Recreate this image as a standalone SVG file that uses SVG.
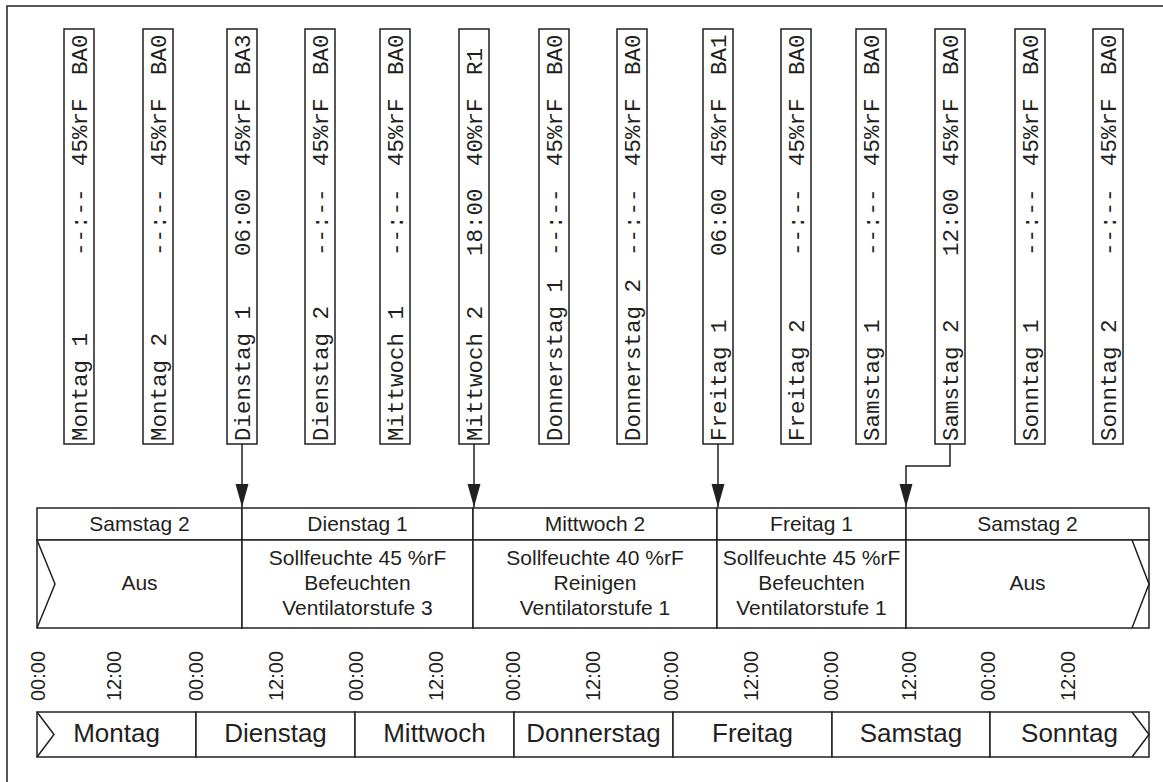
<svg xmlns="http://www.w3.org/2000/svg" width="1163" height="782" viewBox="0 0 1163 782">
<style>
.ln{fill:none;stroke:#231f20;stroke-width:1.5}
.bx{fill:#fff;stroke:#231f20;stroke-width:1.5}
.mono{font-family:"Liberation Mono","DejaVu Sans Mono",monospace;font-size:22.5px;fill:#231f20}
.sans{font-family:"Liberation Sans",Arial,sans-serif;font-size:21px;fill:#231f20;text-anchor:middle}
.tl{font-family:"Liberation Sans",Arial,sans-serif;font-size:20px;fill:#231f20}
.day{font-family:"Liberation Sans",Arial,sans-serif;font-size:26px;fill:#231f20;text-anchor:middle}
</style>
<defs>
<marker id="arr" markerUnits="userSpaceOnUse" markerWidth="24" markerHeight="14" refX="23" refY="6.5" orient="auto">
<path d="M0,0 L23,6.5 L0,13 z" fill="#231f20"/>
</marker>
</defs>
<rect width="1163" height="782" fill="#fff"/>
<path class="ln" d="M7,782 V6 H1163"/>

<g id="programs">
<g id="p-mo1"><rect class="bx" x="64" y="29" width="30" height="415"/><g class="mono" transform="translate(86.5,0)"><text transform="translate(0,441) rotate(-90)">Montag 1</text><text transform="translate(0,256) rotate(-90)">--:--</text><text transform="translate(0,166) rotate(-90)">45%rF</text><text transform="translate(0,75) rotate(-90)">BA0</text></g></g>
<g id="p-mo2"><rect class="bx" x="143" y="29" width="30" height="415"/><g class="mono" transform="translate(165.5,0)"><text transform="translate(0,441) rotate(-90)">Montag 2</text><text transform="translate(0,256) rotate(-90)">--:--</text><text transform="translate(0,166) rotate(-90)">45%rF</text><text transform="translate(0,75) rotate(-90)">BA0</text></g></g>
<g id="p-di1"><rect class="bx" x="227" y="29" width="30" height="415"/><g class="mono" transform="translate(249.5,0)"><text transform="translate(0,441) rotate(-90)">Dienstag 1</text><text transform="translate(0,256) rotate(-90)">06:00</text><text transform="translate(0,166) rotate(-90)">45%rF</text><text transform="translate(0,75) rotate(-90)">BA3</text></g></g>
<g id="p-di2"><rect class="bx" x="305" y="29" width="30" height="415"/><g class="mono" transform="translate(327.5,0)"><text transform="translate(0,441) rotate(-90)">Dienstag 2</text><text transform="translate(0,256) rotate(-90)">--:--</text><text transform="translate(0,166) rotate(-90)">45%rF</text><text transform="translate(0,75) rotate(-90)">BA0</text></g></g>
<g id="p-mi1"><rect class="bx" x="380" y="29" width="30" height="415"/><g class="mono" transform="translate(402.5,0)"><text transform="translate(0,441) rotate(-90)">Mittwoch 1</text><text transform="translate(0,256) rotate(-90)">--:--</text><text transform="translate(0,166) rotate(-90)">45%rF</text><text transform="translate(0,75) rotate(-90)">BA0</text></g></g>
<g id="p-mi2"><rect class="bx" x="459" y="29" width="30" height="415"/><g class="mono" transform="translate(481.5,0)"><text transform="translate(0,441) rotate(-90)">Mittwoch 2</text><text transform="translate(0,256) rotate(-90)">18:00</text><text transform="translate(0,166) rotate(-90)">40%rF</text><text transform="translate(0,75) rotate(-90)">R1</text></g></g>
<g id="p-do1"><rect class="bx" x="539" y="29" width="30" height="415"/><g class="mono" transform="translate(561.5,0)"><text transform="translate(0,441) rotate(-90)">Donnerstag 1</text><text transform="translate(0,256) rotate(-90)">--:--</text><text transform="translate(0,166) rotate(-90)">45%rF</text><text transform="translate(0,75) rotate(-90)">BA0</text></g></g>
<g id="p-do2"><rect class="bx" x="617" y="29" width="30" height="415"/><g class="mono" transform="translate(639.5,0)"><text transform="translate(0,441) rotate(-90)">Donnerstag 2</text><text transform="translate(0,256) rotate(-90)">--:--</text><text transform="translate(0,166) rotate(-90)">45%rF</text><text transform="translate(0,75) rotate(-90)">BA0</text></g></g>
<g id="p-fr1"><rect class="bx" x="703" y="29" width="30" height="415"/><g class="mono" transform="translate(725.5,0)"><text transform="translate(0,441) rotate(-90)">Freitag 1</text><text transform="translate(0,256) rotate(-90)">06:00</text><text transform="translate(0,166) rotate(-90)">45%rF</text><text transform="translate(0,75) rotate(-90)">BA1</text></g></g>
<g id="p-fr2"><rect class="bx" x="781" y="29" width="30" height="415"/><g class="mono" transform="translate(803.5,0)"><text transform="translate(0,441) rotate(-90)">Freitag 2</text><text transform="translate(0,256) rotate(-90)">--:--</text><text transform="translate(0,166) rotate(-90)">45%rF</text><text transform="translate(0,75) rotate(-90)">BA0</text></g></g>
<g id="p-sa1"><rect class="bx" x="856" y="29" width="30" height="415"/><g class="mono" transform="translate(878.5,0)"><text transform="translate(0,441) rotate(-90)">Samstag 1</text><text transform="translate(0,256) rotate(-90)">--:--</text><text transform="translate(0,166) rotate(-90)">45%rF</text><text transform="translate(0,75) rotate(-90)">BA0</text></g></g>
<g id="p-sa2"><rect class="bx" x="935" y="29" width="30" height="415"/><g class="mono" transform="translate(957.5,0)"><text transform="translate(0,441) rotate(-90)">Samstag 2</text><text transform="translate(0,256) rotate(-90)">12:00</text><text transform="translate(0,166) rotate(-90)">45%rF</text><text transform="translate(0,75) rotate(-90)">BA0</text></g></g>
<g id="p-so1"><rect class="bx" x="1015" y="29" width="30" height="415"/><g class="mono" transform="translate(1037.5,0)"><text transform="translate(0,441) rotate(-90)">Sonntag 1</text><text transform="translate(0,256) rotate(-90)">--:--</text><text transform="translate(0,166) rotate(-90)">45%rF</text><text transform="translate(0,75) rotate(-90)">BA0</text></g></g>
<g id="p-so2"><rect class="bx" x="1093" y="29" width="30" height="415"/><g class="mono" transform="translate(1115.5,0)"><text transform="translate(0,441) rotate(-90)">Sonntag 2</text><text transform="translate(0,256) rotate(-90)">--:--</text><text transform="translate(0,166) rotate(-90)">45%rF</text><text transform="translate(0,75) rotate(-90)">BA0</text></g></g>
</g>

<g id="schedule">
<g id="s-sa2a"><rect class="bx" x="37" y="508" width="205" height="32"/><rect class="bx" x="37" y="540" width="205" height="88"/><path class="ln" d="M37,540 L55,584 L37,628"/><text class="sans" x="139.5" y="531">Samstag 2</text><text class="sans" x="139.5" y="590">Aus</text></g>
<g id="s-di1"><rect class="bx" x="242" y="508" width="231" height="32"/><rect class="bx" x="242" y="540" width="231" height="88"/><text class="sans" x="357.5" y="531">Dienstag 1</text><text class="sans" x="357.5" y="565">Sollfeuchte 45 %rF</text><text class="sans" x="357.5" y="590">Befeuchten</text><text class="sans" x="357.5" y="615">Ventilatorstufe 3</text></g>
<g id="s-mi2"><rect class="bx" x="473" y="508" width="244" height="32"/><rect class="bx" x="473" y="540" width="244" height="88"/><text class="sans" x="595" y="531">Mittwoch 2</text><text class="sans" x="595" y="565">Sollfeuchte 40 %rF</text><text class="sans" x="595" y="590">Reinigen</text><text class="sans" x="595" y="615">Ventilatorstufe 1</text></g>
<g id="s-fr1"><rect class="bx" x="717" y="508" width="189" height="32"/><rect class="bx" x="717" y="540" width="189" height="88"/><text class="sans" x="811.5" y="531">Freitag 1</text><text class="sans" x="811.5" y="565">Sollfeuchte 45 %rF</text><text class="sans" x="811.5" y="590">Befeuchten</text><text class="sans" x="811.5" y="615">Ventilatorstufe 1</text></g>
<g id="s-sa2b"><rect class="bx" x="906" y="508" width="243" height="32"/><rect class="bx" x="906" y="540" width="243" height="88"/><path class="ln" d="M1132,540 L1149,584 L1132,628"/><text class="sans" x="1027.5" y="531">Samstag 2</text><text class="sans" x="1027.5" y="590">Aus</text></g>
</g>

<g id="times" class="tl">
<text transform="translate(45,701) rotate(-90)">00:00</text>
<text transform="translate(120.5,701) rotate(-90)">12:00</text>
<text transform="translate(202.5,701) rotate(-90)">00:00</text>
<text transform="translate(282.5,701) rotate(-90)">12:00</text>
<text transform="translate(362.5,701) rotate(-90)">00:00</text>
<text transform="translate(442.5,701) rotate(-90)">12:00</text>
<text transform="translate(519.5,701) rotate(-90)">00:00</text>
<text transform="translate(599.5,701) rotate(-90)">12:00</text>
<text transform="translate(677.5,701) rotate(-90)">00:00</text>
<text transform="translate(757.5,701) rotate(-90)">12:00</text>
<text transform="translate(837.5,701) rotate(-90)">00:00</text>
<text transform="translate(915.5,701) rotate(-90)">12:00</text>
<text transform="translate(994.5,701) rotate(-90)">00:00</text>
<text transform="translate(1074.5,701) rotate(-90)">12:00</text>
</g>

<g id="week">
<g id="w-mo"><rect class="bx" x="37" y="712" width="159" height="45"/><path class="ln" d="M37,712 L54,734.5 L37,757"/><text class="day" x="116.5" y="742">Montag</text></g>
<g id="w-di"><rect class="bx" x="196" y="712" width="159" height="45"/><text class="day" x="275.5" y="742">Dienstag</text></g>
<g id="w-mi"><rect class="bx" x="355" y="712" width="159" height="45"/><text class="day" x="434.5" y="742">Mittwoch</text></g>
<g id="w-do"><rect class="bx" x="514" y="712" width="159" height="45"/><text class="day" x="593.5" y="742">Donnerstag</text></g>
<g id="w-fr"><rect class="bx" x="673" y="712" width="159" height="45"/><text class="day" x="752.5" y="742">Freitag</text></g>
<g id="w-sa"><rect class="bx" x="832" y="712" width="158" height="45"/><text class="day" x="911" y="742">Samstag</text></g>
<g id="w-so"><rect class="bx" x="990" y="712" width="159" height="45"/><path class="ln" d="M1132,712 L1149,734.5 L1132,757"/><text class="day" x="1069.5" y="742">Sonntag</text></g>
</g>

<g id="connectors">
<path class="ln" d="M242,444 V507" marker-end="url(#arr)"/>
<path class="ln" d="M474,444 V507" marker-end="url(#arr)"/>
<path class="ln" d="M718,444 V507" marker-end="url(#arr)"/>
<path class="ln" d="M950,444 V466 H906 V507" marker-end="url(#arr)"/>
</g>
</svg>
